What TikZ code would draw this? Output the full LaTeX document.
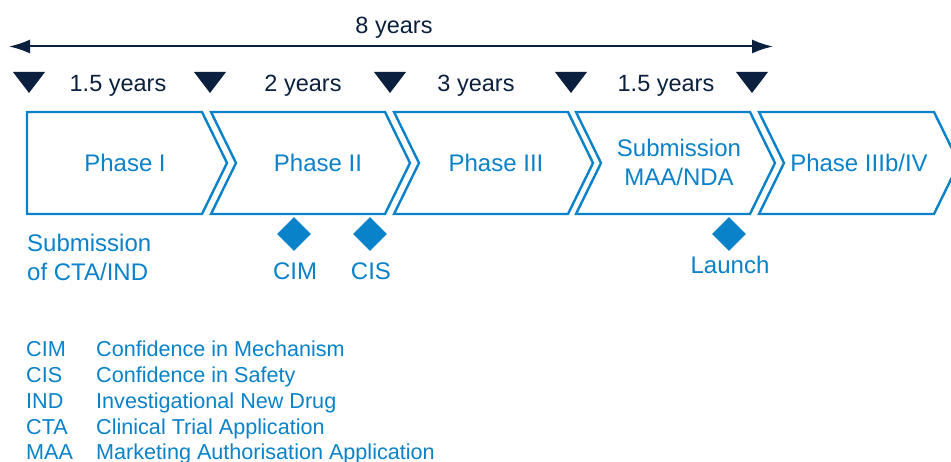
\documentclass[tikz,border=0pt]{standalone}
\usepackage{fontspec}
\setmainfont{Liberation Sans}
\usetikzlibrary{shapes.geometric,arrows.meta}
\definecolor{cblue}{RGB}{10,130,202}
\definecolor{navy}{RGB}{10,32,62}
\tikzset{
  chev/.style={draw=cblue, line width=2.4pt, line join=miter, fill=white},
  tri/.style={fill=navy},
  yr/.style={text=navy, font=\fontsize{23.5}{27}\selectfont, anchor=base, inner sep=0pt},
  phase/.style={text=cblue, font=\fontsize{24}{29}\selectfont, align=center, inner sep=0pt},
  milestone/.style={diamond, fill=cblue, inner sep=0pt, minimum width=34pt, minimum height=34pt},
  mlabel/.style={text=cblue, font=\fontsize{24}{29}\selectfont, anchor=base, inner sep=0pt},
  leg/.style={text=cblue, font=\fontsize{21.6}{25}\selectfont, anchor=base west, inner sep=0pt},
}
\begin{document}
\begin{tikzpicture}[x=1pt,y=-1pt]
\clip (0,0) rectangle (951,462);
\fill[white] (0,0) rectangle (951,462);
% chevrons
\draw[chev] (27,112) -- (202,112) -- (227,163) -- (202,214) -- (27,214) -- cycle;
\foreach \L/\R in {211/385, 394/568, 576/750, 759/934}{
  \draw[chev] (\L,112) -- (\R,112) -- (\R+25,163) -- (\R,214) -- (\L,214) -- (\L+25,163) -- cycle;
}
\node[phase] (p1) at (125,163) {Phase I};
\node[phase] (p2) at (318,163) {Phase II};
\node[phase] (p3) at (496,163) {Phase III};
\node[phase] (p4) at (679,162) {Submission\\MAA/NDA};
\node[phase] (p5) at (859,163) {Phase IIIb/IV};
% triangles
\foreach \c in {29,210,390,571,752}{
  \fill[tri] (\c-16,72) -- (\c+16,72) -- (\c,93) -- cycle;
}
\node[yr] (y1) at (118,92) {1.5 years};
\node[yr] (y2) at (303,92) {2 years};
\node[yr] (y3) at (476,92) {3 years};
\node[yr] (y4) at (666,92) {1.5 years};
% 8 years arrow
\coordinate (aL) at (9,46.5);
\coordinate (aR) at (773,46.5);
\draw[navy, line width=2pt, {Latex[length=21pt,width=14pt]}-{Latex[length=21pt,width=14pt]}] (aL) -- (aR);
\node[yr] (total) at (394,34) {8 years};
% milestones
\node[milestone] (cim) at (294,234) {};
\node[milestone] (cis) at (370,234) {};
\node[milestone] (launch) at (729,234) {};
\node[mlabel] (cimL) at (295,280) {CIM};
\node[mlabel] (cisL) at (371,280) {CIS};
\node[mlabel] (launchL) at (730,274) {Launch};
\node[text=cblue, font=\fontsize{24}{29}\selectfont, align=left, anchor=west, inner sep=0pt] (sub) at (27,257) {Submission\\of CTA/IND};
% legend
\foreach \a/\d/\y [count=\i] in {CIM/Confidence in Mechanism/357, CIS/Confidence in Safety/383, IND/Investigational New Drug/408, CTA/Clinical Trial Application/434, MAA/Marketing Authorisation Application/459}{
  \node[leg] (la\i) at (26,\y) {\a};
  \node[leg] (ld\i) at (96,\y) {\d};
}
\end{tikzpicture}
\end{document}
